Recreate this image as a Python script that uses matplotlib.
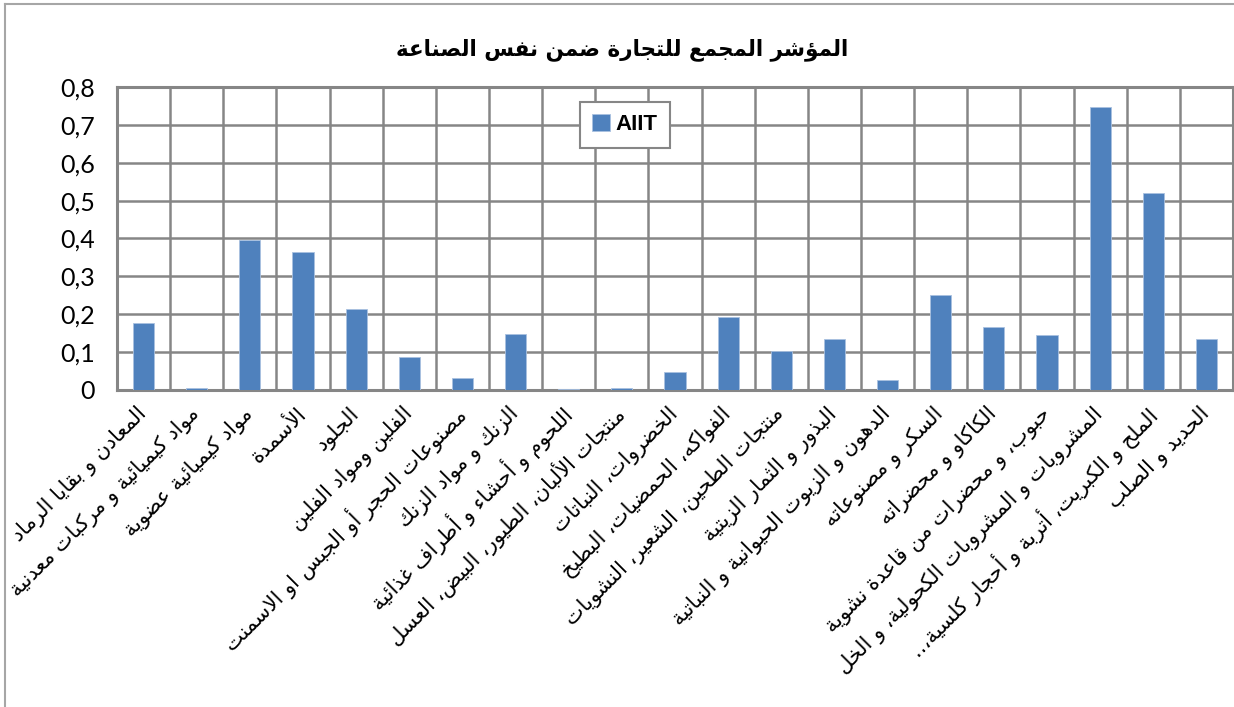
import matplotlib
matplotlib.use('Agg')
import matplotlib.pyplot as plt
import numpy as np
from matplotlib.ticker import FixedLocator, FuncFormatter
from matplotlib.lines import Line2D

# ---------------- data ----------------
title = 'المؤشر المجمع للتجارة ضمن نفس الصناعة'
series_name = 'AIIT'
categories = [
    'المعادن و بقايا الرماد',
    'مواد كيميائية و مركبات معدنية',
    'مواد كيميائية عضوية',
    'الأسمدة',
    'الجلود',
    'الفلين ومواد الفلين',
    'مصنوعات الحجر أو الجبس او الاسمنت',
    'الزنك و مواد الزنك',
    'اللحوم و أحشاء و أطراف غذائية',
    'منتجات الألبان، الطيور، البيض، العسل',
    'الخضروات، النباتات',
    'الفواكه، الحمضيات، البطيخ',
    'منتجات الطحين، الشعير، النشويات',
    'البذور و الثمار الزيتية',
    'الدهون و الزيوت الحيوانية و النباتية',
    'السكر و مصنوعاته',
    'الكاكاو و محضراته',
    'حبوب، و محضرات من قاعدة نشوية',
    'المشروبات و المشروبات الكحولية، و الخل',
    'الملح و الكبريت، أتربة و أحجار كلسية،..',
    'الحديد و الصلب',
]
values = [0.176, 0.004, 0.397, 0.364, 0.213, 0.088, 0.032, 0.148, 0.002, 0.005,
          0.048, 0.193, 0.102, 0.134, 0.026, 0.251, 0.167, 0.145, 0.747, 0.519, 0.134]
y_ticks = [0, 0.1, 0.2, 0.3, 0.4, 0.5, 0.6, 0.7, 0.8]

# ---------------- Arabic shaping (presentation forms + RTL order) ----------------
_FOUR = {'ب': 0xFE8F, 'ت': 0xFE95, 'ث': 0xFE99, 'ج': 0xFE9D, 'ح': 0xFEA1, 'خ': 0xFEA5,
         'س': 0xFEB1, 'ش': 0xFEB5, 'ص': 0xFEB9, 'ض': 0xFEBD, 'ط': 0xFEC1, 'ظ': 0xFEC5,
         'ع': 0xFEC9, 'غ': 0xFECD, 'ف': 0xFED1, 'ق': 0xFED5, 'ك': 0xFED9, 'ل': 0xFEDD,
         'م': 0xFEE1, 'ن': 0xFEE5, 'ه': 0xFEE9, 'ي': 0xFEF1, 'ئ': 0xFE89}
_TWO = {'آ': 0xFE81, 'أ': 0xFE83, 'ؤ': 0xFE85, 'إ': 0xFE87, 'ا': 0xFE8D, 'ة': 0xFE93,
        'د': 0xFEA9, 'ذ': 0xFEAB, 'ر': 0xFEAD, 'ز': 0xFEAF, 'و': 0xFEED, 'ى': 0xFEEF}
_ONE = {'ء': 0xFE80}
_LAMALEF = {'آ': 0xFEF5, 'أ': 0xFEF7, 'إ': 0xFEF9, 'ا': 0xFEFB}


def shape(text):
    out = []
    n = len(text)
    i = 0
    prev_fwd = False
    while i < n:
        c = text[i]
        if c == 'ل' and i + 1 < n and text[i + 1] in _LAMALEF:
            out.append(chr(_LAMALEF[text[i + 1]] + (1 if prev_fwd else 0)))
            prev_fwd = False
            i += 2
            continue
        if c in _FOUR:
            nxt = text[i + 1] if i + 1 < n else ''
            nxt_join = nxt in _FOUR or nxt in _TWO
            b = _FOUR[c]
            if prev_fwd and nxt_join:
                code = b + 3
            elif prev_fwd:
                code = b + 1
            elif nxt_join:
                code = b + 2
            else:
                code = b
            out.append(chr(code))
            prev_fwd = nxt_join
        elif c in _TWO:
            out.append(chr(_TWO[c] + (1 if prev_fwd else 0)))
            prev_fwd = False
        elif c in _ONE:
            out.append(chr(_ONE[c]))
            prev_fwd = False
        else:
            out.append(c)
            prev_fwd = False
        i += 1
    return ''.join(reversed(out))


# ---------------- figure ----------------
W, H = 1234, 707
fig = plt.figure(figsize=(W / 100, H / 100), dpi=100)
fig.patch.set_facecolor('white')

left, right, top, bottom = 117, 1233, 87, 390
ax = fig.add_axes([left / W, 1 - bottom / H, (right - left) / W, (bottom - top) / H])

grid_c = '#868686'
bar_c = '#4F81BD'
x = np.arange(len(categories))
ax.bar(x, values, width=0.4, color=bar_c, edgecolor='#a9c1e0', linewidth=0.6,
       label=series_name, zorder=3)

ax.set_xlim(-0.5, len(categories) - 0.5)
ax.set_ylim(0, 0.8)
ax.yaxis.set_major_locator(FixedLocator(y_ticks))
ax.yaxis.set_major_formatter(FuncFormatter(
    lambda v, p: '0' if abs(v) < 1e-9 else f'{v:.1f}'.replace('.', ',')))
ax.xaxis.set_minor_locator(FixedLocator(np.arange(len(categories) + 1) - 0.5))
ax.set_xticks(x)
ax.set_xticklabels([shape(c) for c in categories], rotation=45, ha='right',
                   rotation_mode='anchor', va='center', fontsize=15,
                   family='DejaVu Sans')
ax.tick_params(axis='x', which='both', length=0, pad=15)
ax.tick_params(axis='y', length=0, pad=16, labelsize=18)
for lab in ax.get_yticklabels():
    lab.set_family('Lato')

ax.grid(axis='y', which='major', color=grid_c, linewidth=1.8, zorder=0)
ax.grid(axis='x', which='minor', color=grid_c, linewidth=1.8, zorder=0)
ax.set_axisbelow(True)
for s in ax.spines.values():
    s.set_color(grid_c)
    s.set_linewidth(2.2)

leg = ax.legend(loc='upper left', bbox_to_anchor=((580 - left) / (right - left), (bottom - 102) / (bottom - top)),
                borderaxespad=0, fancybox=False, framealpha=1, edgecolor=grid_c,
                handlelength=0.8, handleheight=0.8, handletextpad=0.25,
                prop={'family': 'Liberation Sans', 'weight': 'bold', 'size': 16},
                borderpad=0.55)
leg.get_frame().set_linewidth(1.5)

fig.text(622 / W, 1 - 50 / H, shape(title), ha='center', va='center', fontsize=15.5,
         fontweight='bold', family='DejaVu Sans')

# outer chart border (left and top)
fig.add_artist(Line2D([5 / W, 5 / W], [0, 1 - 4 / H], transform=fig.transFigure,
                      color='#a6a6a6', linewidth=1.5))
fig.add_artist(Line2D([5 / W, 1], [1 - 4 / H, 1 - 4 / H], transform=fig.transFigure,
                      color='#a6a6a6', linewidth=1.5))

fig.savefig('out.png', dpi=100)
